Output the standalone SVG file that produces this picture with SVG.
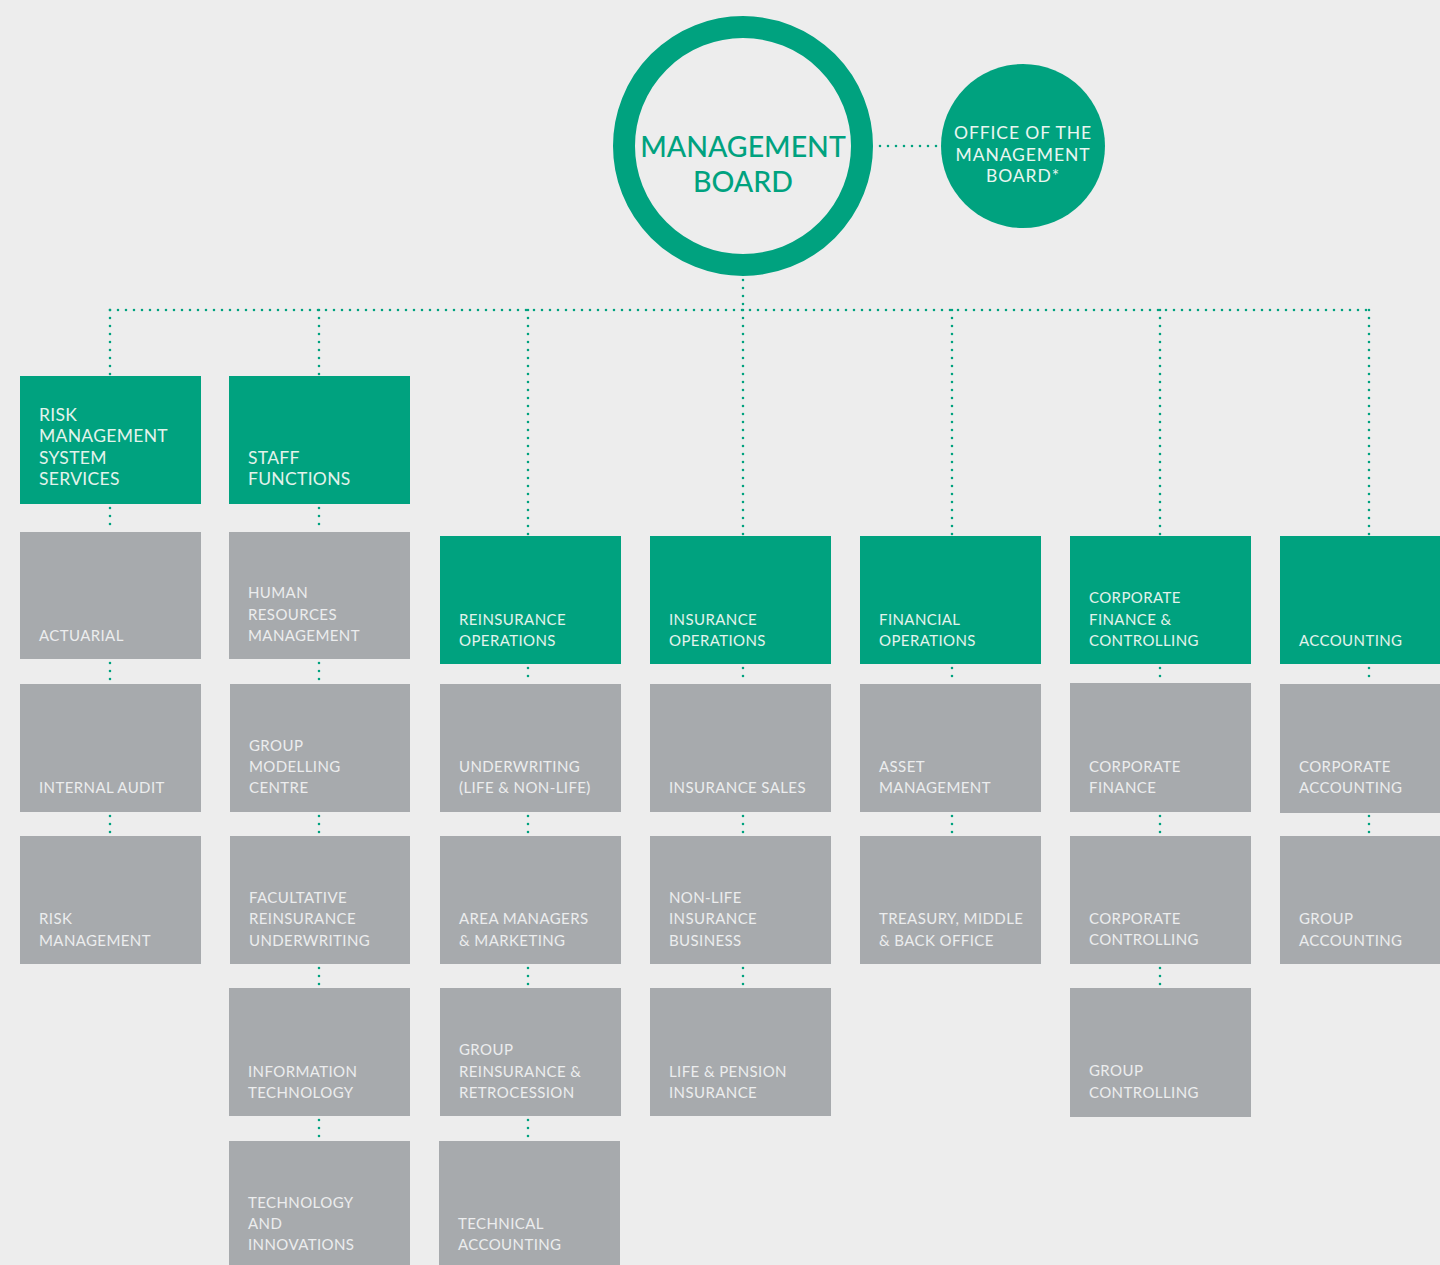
<svg xmlns="http://www.w3.org/2000/svg" width="1440" height="1265" viewBox="0 0 1440 1265">
<style>
.bg{fill:#EDEDED}
.g{fill:#00A27F}
.b{fill:#A7AAAD}
.t{font-family:Lato,"Open Sans",sans-serif;font-size:15px;letter-spacing:0.4px;fill:#ECEDEE}
.tg{fill:#E3F3EC}
.tA{font-size:17.5px;letter-spacing:0.3px}
.c{fill:none;stroke:#00A27F;stroke-width:2.6;stroke-linecap:round;stroke-dasharray:0 8}
.h{font-family:Lato,"Open Sans",sans-serif;font-size:28.5px;fill:#00A27F;font-weight:500;text-anchor:middle}
.o{font-family:Lato,"Open Sans",sans-serif;font-size:17.5px;letter-spacing:0.9px;fill:#EAF6F1;text-anchor:middle}
</style>
<rect class="bg" x="0" y="0" width="1440" height="1265"/>
<g id="connectors">
<path class="c" d="M880 146H940"/>
<path class="c" d="M743 280V310"/>
<path class="c" d="M110 310H1369"/>
<path class="c" d="M110 310V376M319 310V376M528 310V536M743 310V536M952 310V536M1160 310V536M1369 310V536"/>
<path class="c" d="M110 508V530M110 663V682M110 816V834"/>
<path class="c" d="M319 508V530M319 663V682M319 816V834M319 968V986M319 1120V1139"/>
<path class="c" d="M528 668V682M528 816V834M528 968V986M528 1120V1139"/>
<path class="c" d="M743 668V682M743 816V834M743 968V986"/>
<path class="c" d="M952 668V682M952 816V834"/>
<path class="c" d="M1160 668V682M1160 816V834M1160 968V986"/>
<path class="c" d="M1369 668V682M1369 816V834"/>
</g>
<g id="management-board">
<circle cx="743" cy="146" r="119" fill="none" stroke="#00A27F" stroke-width="22"/>
<text class="h"><tspan x="743" y="157">MANAGEMENT</tspan><tspan x="743" y="192">BOARD</tspan></text>
</g>
<g id="office-of-the-management-board">
<circle cx="1023" cy="146" r="82" fill="#00A27F"/>
<text class="o"><tspan x="1023" y="139">OFFICE OF THE</tspan><tspan x="1023" y="161">MANAGEMENT</tspan><tspan x="1023" y="182">BOARD*</tspan></text>
</g>
<g id="risk-management-system-services">
<rect class="g" x="20" y="376" width="181" height="128"/>
<text class="t tg tA"><tspan x="39" y="421">RISK</tspan><tspan x="39" y="442">MANAGEMENT</tspan><tspan x="39" y="464">SYSTEM</tspan><tspan x="39" y="485">SERVICES</tspan></text>
</g>
<g id="actuarial">
<rect class="b" x="20" y="532" width="181" height="127"/>
<text class="t"><tspan x="39" y="641">ACTUARIAL</tspan></text>
</g>
<g id="internal-audit">
<rect class="b" x="20" y="684" width="181" height="128"/>
<text class="t"><tspan x="39" y="793">INTERNAL AUDIT</tspan></text>
</g>
<g id="risk-management">
<rect class="b" x="20" y="836" width="181" height="128"/>
<text class="t"><tspan x="39" y="924">RISK</tspan><tspan x="39" y="946">MANAGEMENT</tspan></text>
</g>
<g id="staff-functions">
<rect class="g" x="229" y="376" width="181" height="128"/>
<text class="t tg tA"><tspan x="248" y="464">STAFF</tspan><tspan x="248" y="485">FUNCTIONS</tspan></text>
</g>
<g id="human-resources-management">
<rect class="b" x="229" y="532" width="181" height="127"/>
<text class="t"><tspan x="248" y="598">HUMAN</tspan><tspan x="248" y="620">RESOURCES</tspan><tspan x="248" y="641">MANAGEMENT</tspan></text>
</g>
<g id="group-modelling-centre">
<rect class="b" x="230" y="684" width="180" height="128"/>
<text class="t"><tspan x="249" y="751">GROUP</tspan><tspan x="249" y="772">MODELLING</tspan><tspan x="249" y="793">CENTRE</tspan></text>
</g>
<g id="facultative-reinsurance-underwriting">
<rect class="b" x="230" y="836" width="180" height="128"/>
<text class="t"><tspan x="249" y="903">FACULTATIVE</tspan><tspan x="249" y="924">REINSURANCE</tspan><tspan x="249" y="946">UNDERWRITING</tspan></text>
</g>
<g id="information-technology">
<rect class="b" x="229" y="988" width="181" height="128"/>
<text class="t"><tspan x="248" y="1077">INFORMATION</tspan><tspan x="248" y="1098">TECHNOLOGY</tspan></text>
</g>
<g id="technology-and-innovations">
<rect class="b" x="229" y="1141" width="181" height="128"/>
<text class="t"><tspan x="248" y="1208">TECHNOLOGY</tspan><tspan x="248" y="1229">AND</tspan><tspan x="248" y="1250">INNOVATIONS</tspan></text>
</g>
<g id="reinsurance-operations">
<rect class="g" x="440" y="536" width="181" height="128"/>
<text class="t tg"><tspan x="459" y="625">REINSURANCE</tspan><tspan x="459" y="646">OPERATIONS</tspan></text>
</g>
<g id="underwriting">
<rect class="b" x="440" y="684" width="181" height="128"/>
<text class="t"><tspan x="459" y="772">UNDERWRITING</tspan><tspan x="459" y="793">(LIFE &amp; NON-LIFE)</tspan></text>
</g>
<g id="area-managers-marketing">
<rect class="b" x="440" y="836" width="181" height="128"/>
<text class="t"><tspan x="459" y="924">AREA MANAGERS</tspan><tspan x="459" y="946">&amp; MARKETING</tspan></text>
</g>
<g id="group-reinsurance-retrocession">
<rect class="b" x="440" y="988" width="181" height="128"/>
<text class="t"><tspan x="459" y="1055">GROUP</tspan><tspan x="459" y="1077">REINSURANCE &amp;</tspan><tspan x="459" y="1098">RETROCESSION</tspan></text>
</g>
<g id="technical-accounting">
<rect class="b" x="439" y="1141" width="181" height="128"/>
<text class="t"><tspan x="458" y="1229">TECHNICAL</tspan><tspan x="458" y="1250">ACCOUNTING</tspan></text>
</g>
<g id="insurance-operations">
<rect class="g" x="650" y="536" width="181" height="128"/>
<text class="t tg"><tspan x="669" y="625">INSURANCE</tspan><tspan x="669" y="646">OPERATIONS</tspan></text>
</g>
<g id="insurance-sales">
<rect class="b" x="650" y="684" width="181" height="128"/>
<text class="t"><tspan x="669" y="793">INSURANCE SALES</tspan></text>
</g>
<g id="non-life-insurance-business">
<rect class="b" x="650" y="836" width="181" height="128"/>
<text class="t"><tspan x="669" y="903">NON-LIFE</tspan><tspan x="669" y="924">INSURANCE</tspan><tspan x="669" y="946">BUSINESS</tspan></text>
</g>
<g id="life-pension-insurance">
<rect class="b" x="650" y="988" width="181" height="128"/>
<text class="t"><tspan x="669" y="1077">LIFE &amp; PENSION</tspan><tspan x="669" y="1098">INSURANCE</tspan></text>
</g>
<g id="financial-operations">
<rect class="g" x="860" y="536" width="181" height="128"/>
<text class="t tg"><tspan x="879" y="625">FINANCIAL</tspan><tspan x="879" y="646">OPERATIONS</tspan></text>
</g>
<g id="asset-management">
<rect class="b" x="860" y="684" width="181" height="128"/>
<text class="t"><tspan x="879" y="772">ASSET</tspan><tspan x="879" y="793">MANAGEMENT</tspan></text>
</g>
<g id="treasury-middle-back-office">
<rect class="b" x="860" y="836" width="181" height="128"/>
<text class="t"><tspan x="879" y="924">TREASURY, MIDDLE</tspan><tspan x="879" y="946">&amp; BACK OFFICE</tspan></text>
</g>
<g id="corporate-finance-controlling">
<rect class="g" x="1070" y="536" width="181" height="128"/>
<text class="t tg"><tspan x="1089" y="603">CORPORATE</tspan><tspan x="1089" y="625">FINANCE &amp;</tspan><tspan x="1089" y="646">CONTROLLING</tspan></text>
</g>
<g id="corporate-finance">
<rect class="b" x="1070" y="683" width="181" height="129"/>
<text class="t"><tspan x="1089" y="772">CORPORATE</tspan><tspan x="1089" y="793">FINANCE</tspan></text>
</g>
<g id="corporate-controlling">
<rect class="b" x="1070" y="836" width="181" height="128"/>
<text class="t"><tspan x="1089" y="924">CORPORATE</tspan><tspan x="1089" y="945">CONTROLLING</tspan></text>
</g>
<g id="group-controlling">
<rect class="b" x="1070" y="988" width="181" height="129"/>
<text class="t"><tspan x="1089" y="1076">GROUP</tspan><tspan x="1089" y="1098">CONTROLLING</tspan></text>
</g>
<g id="accounting">
<rect class="g" x="1280" y="536" width="160" height="128"/>
<text class="t tg"><tspan x="1299" y="646">ACCOUNTING</tspan></text>
</g>
<g id="corporate-accounting">
<rect class="b" x="1280" y="684" width="160" height="129"/>
<text class="t"><tspan x="1299" y="772">CORPORATE</tspan><tspan x="1299" y="793">ACCOUNTING</tspan></text>
</g>
<g id="group-accounting">
<rect class="b" x="1280" y="836" width="160" height="128"/>
<text class="t"><tspan x="1299" y="924">GROUP</tspan><tspan x="1299" y="946">ACCOUNTING</tspan></text>
</g>
</svg>
